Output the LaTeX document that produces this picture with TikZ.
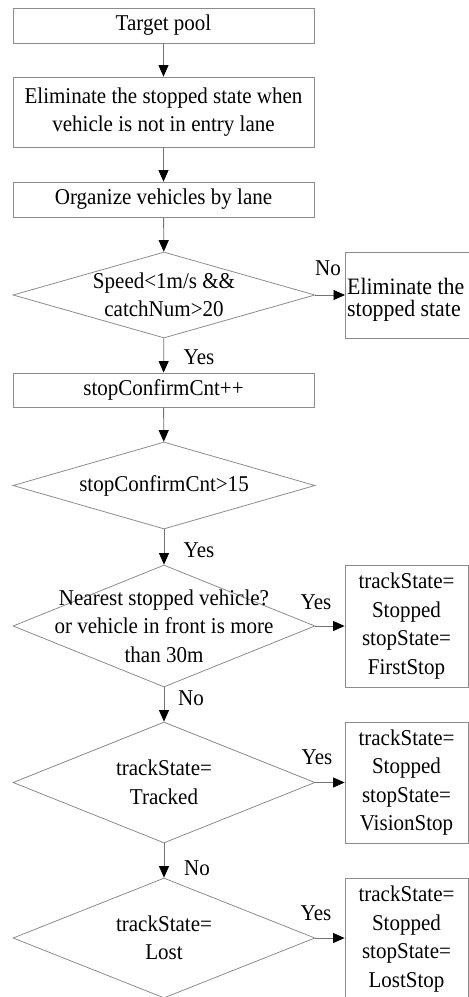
\documentclass[tikz,border=0pt]{standalone}
\usepackage{fontspec}
\setmainfont[FakeStretch=0.93]{Liberation Serif}
\usetikzlibrary{shapes.geometric,arrows.meta}
\begin{document}
\begin{tikzpicture}[x=1pt,y=-1pt,
  every node/.style={font=\fontsize{22.6}{28.5}\selectfont},
  procbox/.style={draw=black!45, line width=0.8pt, minimum width=301pt, inner sep=0pt, align=center},
  sidebox/.style={draw=black!45, line width=0.8pt, minimum width=123pt, inner sep=0pt, align=center},
  decision/.style={draw=black!45, line width=0.8pt, shape=diamond, minimum width=302pt, inner sep=0pt},
  dtext/.style={align=center, inner sep=0pt},
  lbl/.style={inner sep=0pt},
  flow/.style={draw=black!55, line width=0.8pt, -{Triangle[width=10pt,length=11.5pt,color=black,fill=black]}}
]
\useasboundingbox (0,0) rectangle (469,997);
\clip (0,0) rectangle (469,997);

% main column
\node[procbox, minimum height=35pt] (pool) at (163.5,25.5) {Target pool};
\node[procbox, minimum height=70pt] (elimentry) at (163.5,112) {Eliminate the stopped state when\\vehicle is not in entry lane};
\node[procbox, minimum height=35pt] (bylane) at (163.5,199.5) {Organize vehicles by lane};
\node[decision, minimum height=86pt] (speed) at (164,295) {};
\node[dtext] at (speed.center) {Speed<1m/s \&\&\\catchNum>20};
\node[procbox, minimum height=34pt] (cnt) at (163.5,390) {stopConfirmCnt++};
\node[decision, minimum height=87pt] (cntchk) at (164,485.5) {};
\node[dtext] at (cntchk.center) {stopConfirmCnt>15};
\node[decision, minimum height=122pt] (nearest) at (164,626) {};
\node[dtext] at (nearest.center) {Nearest stopped vehicle?\\or vehicle in front is more\\than 30m};
\node[decision, minimum height=121pt] (tracked) at (164,782.5) {};
\node[dtext] at (tracked.center) {trackState=\\Tracked};
\node[decision, minimum height=120pt] (lost) at (164,938) {};
\node[dtext] at (lost.center) {trackState=\\Lost};

% right column
\node[draw=black!45, line width=0.8pt, anchor=west, minimum width=160pt, minimum height=86pt,
      inner sep=0pt] (elimstop) at (345,295) {};
\node[anchor=west, align=left, inner sep=0pt,
      font=\fontsize{23.5}{21.5}\selectfont] at (347,300) {Eliminate the\\stopped state};
\node[sidebox, minimum height=122pt] (first) at (406.5,626) {trackState=\\Stopped\\stopState=\\FirstStop};
\node[sidebox, minimum height=121pt] (vision) at (406.5,782.5) {trackState=\\Stopped\\stopState=\\VisionStop};
\node[sidebox, minimum height=122pt] (loststop) at (406.5,939) {trackState=\\Stopped\\stopState=\\LostStop};

% connectors
\draw[flow] (pool) -- (elimentry);
\draw[flow] (elimentry) -- (bylane);
\draw[flow] (bylane) -- (speed);
\draw[flow] (speed) -- (cnt);
\draw[flow] (cnt) -- (cntchk);
\draw[flow] (cntchk) -- (nearest);
\draw[flow] (nearest) -- (tracked);
\draw[flow] (tracked) -- (lost);
\draw[flow] (speed.east) -- (speed.east -| elimstop.west);
\draw[flow] (nearest.east) -- (nearest.east -| first.west);
\draw[flow] (tracked.east) -- (tracked.east -| vision.west);
\draw[flow] (lost.east) -- (lost.east -| loststop.west);

% branch labels
\node[lbl] at (328,268) {No};
\node[lbl] at (199,357) {Yes};
\node[lbl] at (199,550) {Yes};
\node[lbl] at (316,602) {Yes};
\node[lbl] at (191,698) {No};
\node[lbl] at (317,757) {Yes};
\node[lbl] at (197,868) {No};
\node[lbl] at (316,913) {Yes};
\end{tikzpicture}
\end{document}
